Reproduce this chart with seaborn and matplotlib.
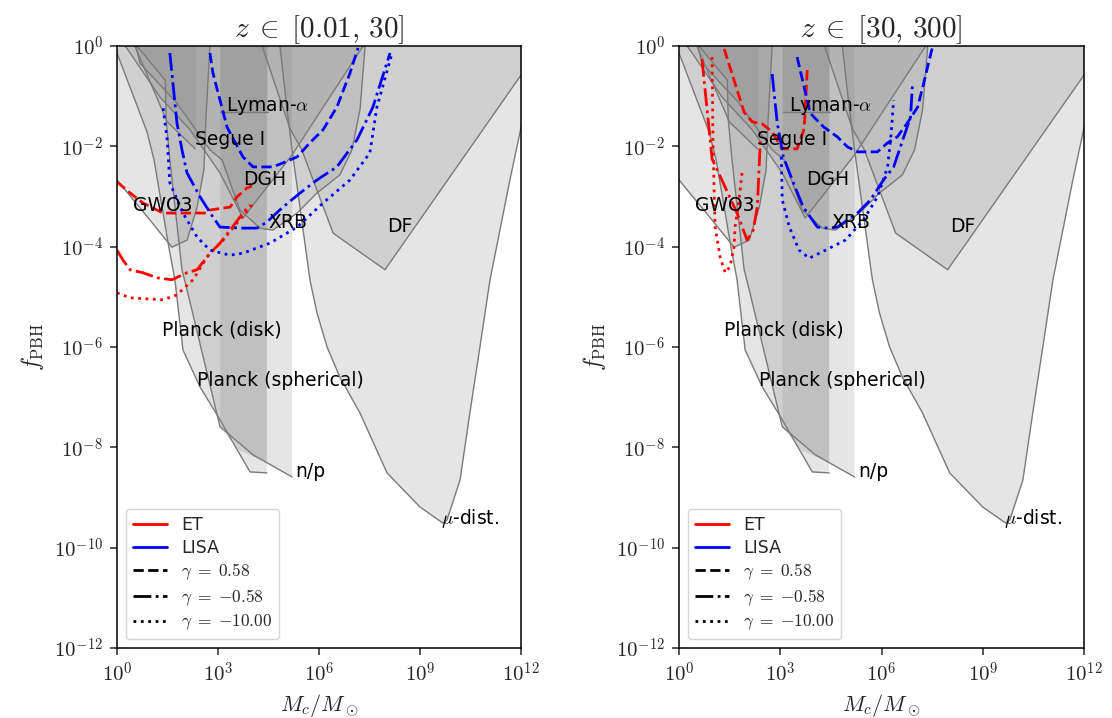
import numpy as np
import pandas as pd
import matplotlib
matplotlib.use("Agg")
import matplotlib.pyplot as plt
from matplotlib.lines import Line2D
from matplotlib.ticker import FuncFormatter, NullLocator
import seaborn as sns

# ---------------- data (log10 M_c/M_sun, log10 f_PBH) ----------------
# existing constraints: lower boundary curves (region above is excluded)
planck_disk_logM = [0.00, 0.89, 1.10, 1.54, 1.72, 1.96, 2.47, 2.97, 3.95, 4.45]
planck_disk_logf = [-0.14, -1.71, -2.27, -4.01, -4.66, -6.06, -6.80, -7.35, -8.49, -8.51]
planck_sph_logM = [0.59, 1.43, 1.46, 1.57, 1.93, 2.08, 3.06, 4.04, 5.20]
planck_sph_logf = [0.00, -0.68, -1.47, -2.27, -4.46, -4.86, -7.59, -8.15, -8.59]
band_logM = [3.07, 3.07, 3.60, 4.45, 4.45]
band_logf = [0.00, -7.60, -8.05, -8.30, 0.00]
gwo3_logM = [0.00, 0.98, 1.63, 2.08, 2.38, 2.58, 2.64, 2.76]
gwo3_logf = [-2.67, -3.47, -4.01, -3.87, -3.21, -2.47, -1.47, 0.00]
segue_logM = [0.53, 1.49, 2.32]
segue_logf = [0.00, -1.51, -2.05]
dgh_logM = [0.24, 0.39, 1.28, 2.17, 3.06, 3.74, 5.20, 7.31]
dgh_logf = [0.00, -0.14, -1.02, -1.67, -2.53, -3.43, -2.17, 0.00]
xrb_logM = [0.56, 0.68, 1.78, 2.76, 3.12, 3.65, 4.25, 4.63, 5.35, 5.94, 6.62, 6.98, 7.22, 7.37]
xrb_logf = [0.00, -0.34, -1.14, -2.07, -2.27, -3.27, -3.63, -3.67, -3.33, -2.93, -2.57, -2.07, -1.26, 0.00]
lyman_logM = [3.07, 4.48]
lyman_logf = [-1.32, -1.32]
df_logM = [4.31, 5.14, 5.49, 6.42, 7.96, 12.0, 12.5]
df_logf = [0.00, -1.65, -2.07, -3.73, -4.46, -0.58, 0.10]
mu_logM = [4.84, 5.05, 5.20, 5.73, 5.94, 6.24, 6.62, 7.22, 8.02, 9.00, 9.68, 9.80,
           10.19, 10.48, 10.78, 11.08, 11.67, 12.0, 12.3]
mu_logf = [0.00, -1.26, -2.07, -4.66, -5.32, -6.00, -6.60, -7.32, -8.51, -9.19, -9.51, -9.45,
           -8.65, -7.32, -6.00, -4.66, -2.67, -1.63, -0.50]

constraint_labels = ["Lyman-$\\alpha$", "Segue I", "DGH", "GWO3", "XRB", "DF",
                     "Planck (disk)", "Planck (spherical)", "n/p", "$\\mu$-dist."]
label_logM = [4.48, 3.36, 4.40, 1.37, 5.08, 8.40, 3.12, 4.84, 5.75, 10.48]
label_logf = [-1.20, -1.87, -2.67, -3.17, -3.51, -3.59, -5.66, -6.66, -8.49, -9.41]

# panel 1: z in [0.01, 30]
p1_et_a_logM = [0.00, 0.39, 0.77, 1.37, 2.67, 2.76, 3.36, 3.56, 3.86, 4.01]
p1_et_a_logf = [-2.71, -2.93, -3.13, -3.33, -3.33, -3.27, -3.21, -3.01, -2.83, -2.79]
p1_et_b_logM = [0.00, 0.18, 0.39, 0.77, 1.19, 1.63, 2.08, 2.38, 2.76, 3.06, 3.36, 3.74, 3.95]
p1_et_b_logf = [-4.07, -4.27, -4.46, -4.52, -4.62, -4.66, -4.52, -4.46, -4.13, -3.93, -3.67, -3.33, -3.17]
p1_et_c_logM = [0.00, 0.39, 1.37, 1.78, 2.26, 2.67, 3.15, 3.56, 4.01]
p1_et_c_logf = [-4.92, -5.02, -5.06, -4.96, -4.66, -4.21, -3.87, -3.53, -3.17]
p1_lisa_a_logM = [2.76, 2.85, 3.27, 3.74, 4.04, 4.63, 4.93, 5.35, 5.73, 6.12, 6.53, 6.92, 7.16]
p1_lisa_a_logf = [-0.14, -0.54, -1.62, -2.21, -2.41, -2.41, -2.33, -2.21, -1.93, -1.67, -1.22, -0.54, -0.04]
p1_lisa_b_logM = [1.57, 1.78, 1.93, 2.08, 2.47, 2.85, 3.06, 3.74, 4.16, 4.45, 4.93, 5.44, 5.94, 6.53, 7.13, 7.60, 8.11]
p1_lisa_b_logf = [-0.14, -1.53, -2.07, -2.53, -3.01, -3.41, -3.61, -3.63, -3.63, -3.51, -3.21, -2.93, -2.67, -2.41, -1.87, -1.22, -0.14]
p1_lisa_c_logM = [1.37, 1.49, 1.57, 1.96, 2.38, 2.76, 3.36, 3.74, 4.54, 5.35, 6.12, 6.92, 7.51, 7.72, 8.17]
p1_lisa_c_logf = [-1.24, -1.87, -2.73, -3.33, -3.81, -4.07, -4.17, -4.13, -3.93, -3.61, -3.13, -2.67, -2.13, -1.22, -0.14]

# panel 2: z in [30, 300]
p2_et_a_logM = [1.34, 1.93, 2.17, 2.46, 2.76, 3.06, 3.50, 3.71, 3.80]
p2_et_a_logf = [-0.06, -1.32, -1.51, -1.55, -1.71, -2.05, -2.05, -1.65, -0.46]
p2_et_b_logM = [0.68, 0.98, 1.31, 1.72, 2.02, 2.20, 2.32, 2.38, 2.41]
p2_et_b_logf = [-0.26, -2.25, -2.73, -3.33, -3.87, -3.67, -3.21, -2.33, -1.87]
p2_et_c_logM = [0.98, 1.01, 1.07, 1.22, 1.37, 1.51, 1.63, 1.66, 1.78, 1.87]
p2_et_c_logf = [-0.22, -2.07, -3.61, -4.21, -4.52, -4.40, -4.01, -3.61, -3.07, -2.51]
p2_lisa_a_logM = [3.50, 3.68, 3.89, 4.28, 4.69, 4.99, 5.29, 5.88, 6.18, 6.47, 6.77, 7.07, 7.25, 7.51]
p2_lisa_a_logf = [-0.22, -0.74, -1.34, -1.61, -1.81, -2.01, -2.11, -2.11, -1.93, -1.81, -1.53, -1.22, -0.74, -0.02]
p2_lisa_b_logM = [2.76, 2.91, 3.09, 3.39, 3.68, 4.10, 4.40, 4.69, 5.29, 5.67, 6.06, 6.36, 6.56, 6.86, 6.92]
p2_lisa_b_logf = [-0.56, -1.53, -2.21, -2.73, -3.21, -3.61, -3.63, -3.61, -3.33, -3.07, -2.67, -2.41, -2.01, -1.42, -0.74]
p2_lisa_c_logM = [3.03, 3.06, 3.27, 3.56, 3.86, 4.34, 4.93, 5.46, 5.88, 6.18, 6.27, 6.36]
p2_lisa_c_logf = [-2.21, -3.07, -3.61, -4.07, -4.23, -4.07, -3.87, -3.47, -3.01, -2.41, -1.87, -1.08]

titles = ["$z\\;\\in\\;[0.01,\\,30]$", "$z\\;\\in\\;[30,\\,300]$"]
gamma_labels = ["$\\gamma\\;=\\;0.58$", "$\\gamma\\;=\\;{-}0.58$", "$\\gamma\\;=\\;{-}10.00$"]
detectors = ["ET", "LISA"]

# ---------------- style ----------------
sns.set_style("ticks")
plt.rcParams["font.family"] = ["DejaVu Sans"]
plt.rcParams["mathtext.fontset"] = "cm"
plt.rcParams["axes.linewidth"] = 1.1

fig = plt.figure(figsize=(11.12, 7.18), dpi=100)
ax1 = fig.add_axes([117 / 1112, 1 - 648 / 718, 404 / 1112, 602 / 718])
ax2 = fig.add_axes([679 / 1112, 1 - 648 / 718, 405 / 1112, 602 / 718])

curve_sets = [
    (planck_disk_logM, planck_disk_logf),
    (planck_sph_logM, planck_sph_logf),
    (gwo3_logM, gwo3_logf),
    (dgh_logM, dgh_logf),
    (xrb_logM, xrb_logf),
    (df_logM, df_logf),
    (mu_logM, mu_logf),
]

ls_styles = ["--", "-.", ":"]
colors = {"ET": "#ff0000", "LISA": "#0000ff"}

panel_lines = [
    [("ET", 0, p1_et_a_logM, p1_et_a_logf), ("ET", 1, p1_et_b_logM, p1_et_b_logf),
     ("ET", 2, p1_et_c_logM, p1_et_c_logf), ("LISA", 0, p1_lisa_a_logM, p1_lisa_a_logf),
     ("LISA", 1, p1_lisa_b_logM, p1_lisa_b_logf), ("LISA", 2, p1_lisa_c_logM, p1_lisa_c_logf)],
    [("ET", 0, p2_et_a_logM, p2_et_a_logf), ("ET", 1, p2_et_b_logM, p2_et_b_logf),
     ("ET", 2, p2_et_c_logM, p2_et_c_logf), ("LISA", 0, p2_lisa_a_logM, p2_lisa_a_logf),
     ("LISA", 1, p2_lisa_b_logM, p2_lisa_b_logf), ("LISA", 2, p2_lisa_c_logM, p2_lisa_c_logf)],
]

fill_kw = dict(facecolor="#808080", alpha=0.2, edgecolor="none", lw=0)
edge_kw = dict(color="#7a7a7a", lw=1.0)

def pw(a):
    return 10.0 ** np.asarray(a, dtype=float)

for ax, title, lines in zip([ax1, ax2], titles, panel_lines):
    ax.set_xscale("log")
    ax.set_yscale("log")
    # constraint regions: fill from curve up to f = 1
    for lm, lf in curve_sets:
        px = list(lm) + [lm[-1], lm[0]]
        py = list(lf) + [0.5, 0.5]
        ax.fill(pw(px), pw(py), **fill_kw)
        ax.plot(pw(lm), pw(lf), **edge_kw)
    # Segue I
    sx = segue_logM + [2.35, 2.35, segue_logM[0]]
    sy = segue_logf + [segue_logf[-1], 0.5, 0.5]
    ax.fill(pw(sx), pw(sy), **fill_kw)
    ax.plot(pw(segue_logM), pw(segue_logf), **edge_kw)
    # additional vertical Planck band
    ax.fill(pw(band_logM), pw(band_logf), **fill_kw)
    # Lyman-alpha
    ax.fill(pw([lyman_logM[0], lyman_logM[1], lyman_logM[1], lyman_logM[0]]),
            pw([lyman_logf[0], lyman_logf[1], 0.5, 0.5]), **fill_kw)
    ax.plot(pw(lyman_logM), pw(lyman_logf), **edge_kw)

    # forecast curves
    for det, gi, lm, lf in lines:
        df = pd.DataFrame({"M": pw(lm), "f": pw(lf)})
        sns.lineplot(data=df, x="M", y="f", ax=ax, sort=False, estimator=None,
                     color=colors[det], linestyle=ls_styles[gi], lw=2.0)

    for txt, lx, ly in zip(constraint_labels, label_logM, label_logf):
        ax.text(10 ** lx, 10 ** ly, txt, ha="center", va="center", fontsize=13.5, color="black")

    ax.set_xlim(1e0, 1e12)
    ax.set_ylim(1e-12, 1e0)
    ax.set_xticks([10.0 ** k for k in [0, 3, 6, 9, 12]])
    ax.set_yticks([10.0 ** k for k in range(-12, 1, 2)])
    ax.xaxis.set_minor_locator(NullLocator())
    ax.yaxis.set_minor_locator(NullLocator())
    fmt = FuncFormatter(lambda v, pos: "$10^{%d}$" % int(round(np.log10(v))))
    ax.xaxis.set_major_formatter(fmt)
    ax.yaxis.set_major_formatter(fmt)
    ax.tick_params(axis="both", which="major", labelsize=15, direction="out",
                   length=5, width=1.1, pad=5)
    ax.set_xlabel("$M_c/M_\\odot$", fontsize=16, labelpad=4)
    ax.set_ylabel("$f_{\\rm PBH}$", fontsize=17, labelpad=6)
    ax.set_title(title, fontsize=21, pad=6)
    for sp in ax.spines.values():
        sp.set_visible(True)
        sp.set_color("black")

    handles = [Line2D([], [], color=colors["ET"], lw=2, ls="-"),
               Line2D([], [], color=colors["LISA"], lw=2, ls="-")]
    for gi in range(3):
        handles.append(Line2D([], [], color="black", lw=2, ls=ls_styles[gi]))
    leg = ax.legend(handles, detectors + gamma_labels, loc="lower left", fontsize=12.5,
                    frameon=True, fancybox=True, framealpha=0.8, handlelength=2.0,
                    labelspacing=0.28, borderaxespad=0.5)

fig.savefig("out.png", dpi=100)
